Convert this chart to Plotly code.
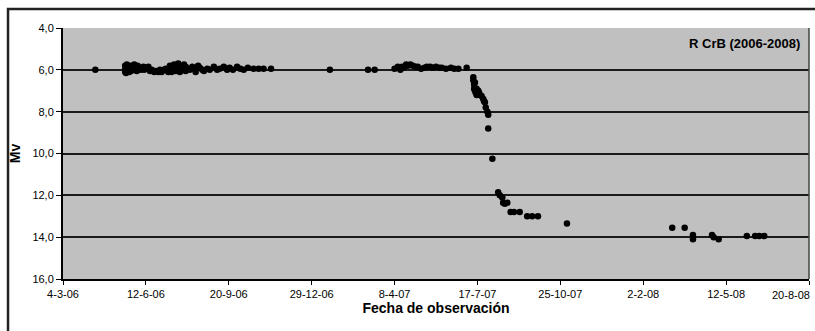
import plotly.graph_objects as go

dates = [
    "2006-04-12",
    "2006-05-18", "2006-05-18", "2006-05-18", "2006-05-19", "2006-05-19", "2006-05-20",
    "2006-05-21", "2006-05-23", "2006-05-23", "2006-05-24", "2006-05-25", "2006-05-25",
    "2006-05-27", "2006-05-29", "2006-05-29", "2006-05-31", "2006-06-01", "2006-06-02",
    "2006-06-05", "2006-06-06", "2006-06-09", "2006-06-10", "2006-06-12", "2006-06-15",
    "2006-06-17", "2006-06-19", "2006-06-22", "2006-06-24", "2006-06-27", "2006-06-29",
    "2006-07-01", "2006-07-04", "2006-07-06", "2006-07-09", "2006-07-11", "2006-07-11",
    "2006-07-13", "2006-07-13", "2006-07-16", "2006-07-16", "2006-07-18", "2006-07-18",
    "2006-07-21", "2006-07-21", "2006-07-23", "2006-07-23", "2006-07-26", "2006-07-28",
    "2006-07-28", "2006-07-30", "2006-07-30", "2006-08-02", "2006-08-04", "2006-08-07",
    "2006-08-09", "2006-08-11", "2006-08-14", "2006-08-16", "2006-08-19", "2006-08-21",
    "2006-08-25", "2006-08-28", "2006-09-02", "2006-09-06", "2006-09-09", "2006-09-14",
    "2006-09-18", "2006-09-21", "2006-09-25", "2006-09-30", "2006-10-04", "2006-10-08",
    "2006-10-13", "2006-10-20", "2006-10-26", "2006-11-01", "2006-11-10",
    "2007-01-20", "2007-03-07", "2007-03-15",
    "2007-04-08", "2007-04-12", "2007-04-15", "2007-04-17", "2007-04-19", "2007-04-22",
    "2007-04-24", "2007-04-27", "2007-04-30", "2007-05-03", "2007-05-06", "2007-05-10",
    "2007-05-14", "2007-05-17", "2007-05-21", "2007-05-24", "2007-05-28", "2007-06-01",
    "2007-06-04", "2007-06-09", "2007-06-15", "2007-06-19", "2007-06-24", "2007-07-04",
    "2007-07-12", "2007-07-12", "2007-07-13", "2007-07-13", "2007-07-14", "2007-07-14",
    "2007-07-15", "2007-07-16", "2007-07-16", "2007-07-18", "2007-07-19", "2007-07-20",
    "2007-07-22", "2007-07-24", "2007-07-25", "2007-07-26", "2007-07-27", "2007-07-29",
    "2007-07-30", "2007-07-30", "2007-08-04",
    "2007-08-11", "2007-08-13", "2007-08-16", "2007-08-17", "2007-08-19", "2007-08-22",
    "2007-08-26", "2007-08-30", "2007-09-06", "2007-09-15", "2007-09-21", "2007-09-28",
    "2007-11-02",
    "2008-03-08", "2008-03-23", "2008-04-02", "2008-04-02", "2008-04-25", "2008-04-27",
    "2008-05-03", "2008-06-06", "2008-06-16", "2008-06-21", "2008-06-27",
]
mv = [
    6.0,
    5.8, 6.0, 6.1, 5.9, 6.15, 5.75,
    6.0, 5.85, 6.1, 5.9, 5.8, 6.05,
    5.95, 5.75, 6.0, 5.85, 6.05, 5.8,
    5.9, 6.0, 5.85, 6.0, 5.9, 5.85,
    6.05, 6.0, 6.1, 6.05, 6.1, 6.0,
    6.1, 6.0, 5.95, 6.1, 5.8, 6.0,
    5.9, 6.1, 5.75, 6.0, 5.85, 6.05,
    5.7, 5.95, 5.8, 6.1, 5.9, 5.75,
    6.0, 5.85, 6.05, 5.95, 6.0, 5.85,
    5.95, 6.1, 5.8, 5.9, 6.0, 6.05,
    5.95, 6.0, 5.85, 6.0, 5.95, 5.85,
    6.0, 5.9, 6.0, 5.85, 5.95, 6.0,
    5.9, 5.95, 5.95, 5.95, 5.95,
    6.0, 6.0, 6.0,
    5.95, 5.85, 6.0, 5.85, 5.9, 5.75,
    5.8, 5.75, 5.8, 5.85, 5.85, 5.95,
    5.9, 5.85, 5.85, 5.9, 5.85, 5.9,
    5.9, 5.95, 5.9, 5.95, 5.95, 5.9,
    6.35, 6.5, 6.7, 6.9, 7.0, 6.6,
    7.1, 6.9, 7.2, 7.0, 7.1, 7.2,
    7.25, 7.4, 7.5, 7.55, 7.8, 8.0,
    8.15, 8.8, 10.25,
    11.85, 12.0, 12.1, 12.35, 12.4, 12.35,
    12.8, 12.8, 12.8, 13.0, 13.0, 13.0,
    13.35,
    13.55, 13.55, 13.9, 14.1, 13.9, 14.0,
    14.1, 13.95, 13.95, 13.95, 13.95,
]

x_tick_dates = ["2006-03-04", "2006-06-12", "2006-09-20", "2006-12-29", "2007-04-08",
                "2007-07-17", "2007-10-25", "2008-02-02", "2008-05-12", "2008-08-20"]
x_tick_labels = ["4-3-06", "12-6-06", "20-9-06", "29-12-06", "8-4-07",
                 "17-7-07", "25-10-07", "2-2-08", "12-5-08", "20-8-08"]
y_ticks = [4, 6, 8, 10, 12, 14, 16]

title_text = "R CrB (2006-2008)"
x_title = "Fecha de observación"
y_title = "Mv"

font = "Liberation Sans, Arial, sans-serif"

fig = go.Figure()
fig.add_trace(go.Scatter(
    x=dates, y=mv, mode="markers",
    marker=dict(color="black", size=6.5, line=dict(width=0)),
    showlegend=False,
))

fig.update_layout(
    width=815, height=331,
    margin=dict(l=63, r=6, t=28, b=52),
    paper_bgcolor="white",
    plot_bgcolor="#c0c0c0",
    separators=",.",
    font=dict(family=font, size=11, color="black"),
    xaxis=dict(
        type="date",
        range=[x_tick_dates[0], x_tick_dates[-1]],
        tickvals=x_tick_dates,
        ticktext=x_tick_labels[:-1] + [""],
        ticks="outside", ticklen=4, tickwidth=1, tickcolor="black",
        showline=True, linecolor="black", linewidth=2, mirror=False,
        showgrid=False, zeroline=False,
        title=dict(text="<b>" + x_title + "</b>", font=dict(size=14), standoff=4),
        tickfont=dict(size=11),
    ),
    yaxis=dict(
        range=[16, 4],
        tickvals=y_ticks,
        tickformat=".1f",
        ticks="outside", ticklen=5, tickwidth=1, tickcolor="black",
        showline=True, linecolor="black", linewidth=2,
        showgrid=True, gridcolor="#1a1a1a", gridwidth=2,
        zeroline=False,
        title=dict(text="<b>" + y_title + "</b>", font=dict(size=14), standoff=8),
        tickfont=dict(size=11),
    ),
    annotations=[
        dict(text="<b>" + title_text + "</b>", xref="paper", yref="paper",
             x=0.99, y=0.975, xanchor="right", yanchor="top", showarrow=False,
             font=dict(size=13, color="black")),
        dict(text=x_tick_labels[-1], xref="x", yref="paper",
             x=x_tick_dates[-1], y=0, yshift=-8, xshift=3,
             xanchor="right", yanchor="top", showarrow=False,
             font=dict(size=11, color="black")),
    ],
    shapes=[
        # right border of plot area
        dict(type="line", xref="paper", yref="paper", x0=1, x1=1, y0=0, y1=1,
             line=dict(color="#444", width=1.5)),
        # outer frame of the figure
        dict(type="rect", xref="paper", yref="paper",
             x0=-0.0737, x1=1.05, y0=-0.3, y1=1.0757,
             line=dict(color="#222", width=2.5), layer="below"),
    ],
)

fig.write_html("out.html")
